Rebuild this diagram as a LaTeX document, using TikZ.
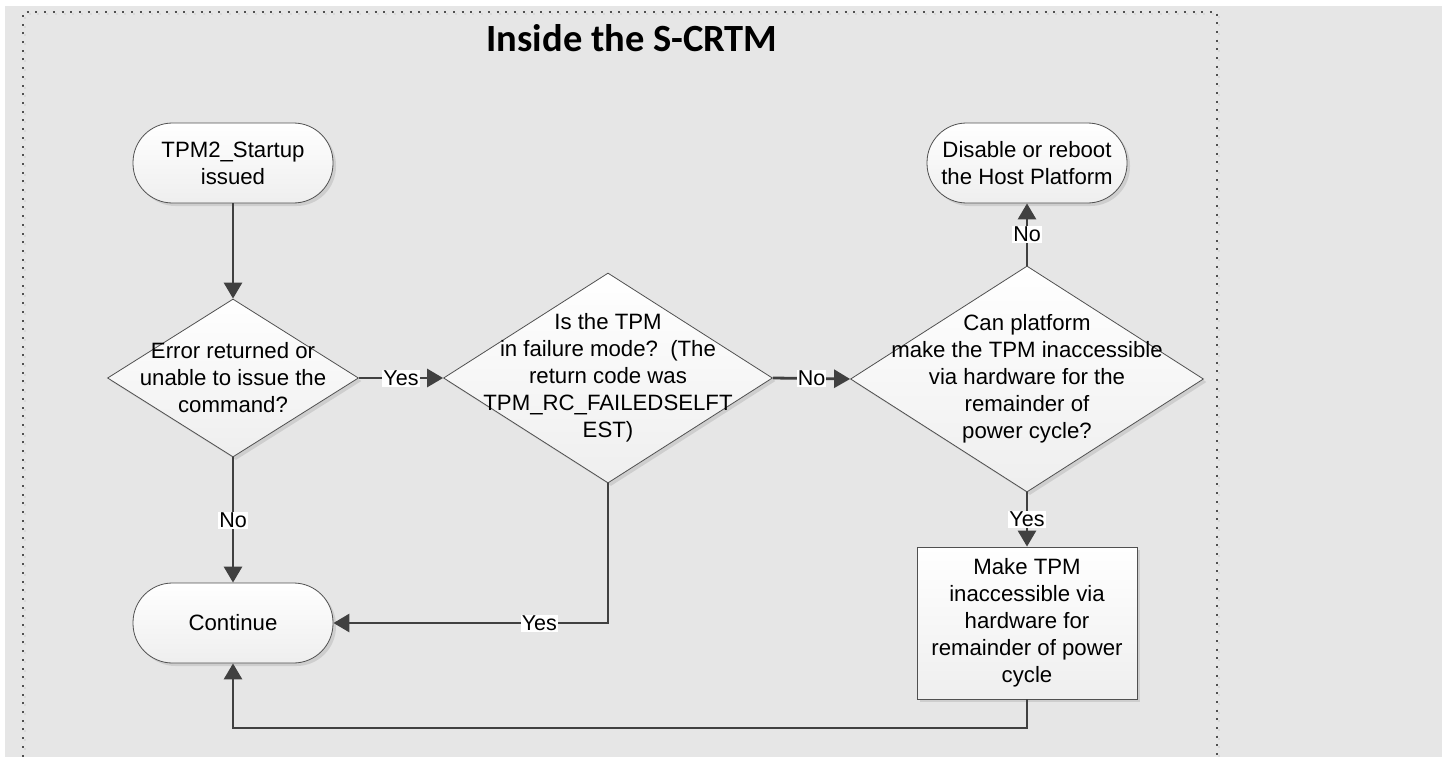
\documentclass[tikz,border=0pt]{standalone}
\usepackage{fontspec}
\setmainfont{Liberation Sans}
\newfontfamily\titlefont{Carlito}
\usetikzlibrary{shapes.geometric,arrows.meta,shadows}
\definecolor{bg}{HTML}{E6E6E6}
\definecolor{ln}{HTML}{404040}
\definecolor{bd}{HTML}{505050}
\definecolor{dotc}{HTML}{505050}
\begin{document}
\begin{tikzpicture}[x=1pt,y=-1pt,
  box/.style={draw=bd, line width=0.8pt, top color=white, bottom color=gray!13,
    drop shadow={shadow xshift=3pt,shadow yshift=-3pt,fill=black,opacity=0.10}, inner sep=0pt},
  term/.style={box, rectangle, rounded corners=39.5pt, minimum width=200pt, minimum height=80pt},
  dia/.style={box, diamond},
  txt/.style={font=\fontsize{22.2}{27}\selectfont, align=center, inner sep=0pt},
  conn/.style={draw=ln, line width=2.8pt, -{Triangle[length=16pt,width=18pt]}},
  lbl/.style={fill=white, text=black, font=\fontsize{21.5}{24}\selectfont, inner sep=1pt}]
\useasboundingbox (0,0) rectangle (1442,757);
\clip (0,0) rectangle (1442,757);
\fill[white] (0,0) rectangle (1442,757);
\fill[bg] (5,6) rectangle (1442,757);
% dotted frame
\draw[black!15, line width=2pt, dash pattern=on 2pt off 6.7pt, shift={(2,2)}] (23,800) -- (23,12) -- (1217,12) -- (1217,800);
\draw[dotc, line width=2pt, dash pattern=on 2pt off 6.7pt] (23,800) -- (23,12) -- (1217,12) -- (1217,800);
% title
\node[anchor=base, inner sep=0pt, font=\titlefont\bfseries\fontsize{38.5}{41}\selectfont] (title) at (632,52) {Inside the S-CRTM};
% nodes
\node[term] (start) at (233,163) {};
\node[txt] (startt) at (start.center) {TPM2\_Startup\\issued};
\node[dia, minimum width=251pt, minimum height=158pt] (d1) at (233,378) {};
\node[txt] (d1t) at (d1.center) {Error returned or\\unable to issue the\\command?};
\node[dia, minimum width=329pt, minimum height=210pt] (d2) at (608,378) {};
\node[txt] (d2t) at (d2.center) {Is the TPM\\in failure mode?\ \ (The\\return code was\\TPM\_RC\_FAILEDSELFT\\EST)};
\node[dia, minimum width=353pt, minimum height=226pt] (d3) at (1027,379) {};
\node[txt] (d3t) at (d3.center) {Can platform\\make the TPM inaccessible\\via hardware for the\\remainder of\\power cycle?};
\node[term] (dis) at (1027,163) {};
\node[txt] (dist) at (dis.center) {Disable or reboot\\the Host Platform};
\node[box, rectangle, minimum width=220pt, minimum height=152pt] (make) at (1027,623) {};
\node[txt] (maket) at (make.center) {Make TPM\\inaccessible via\\hardware for\\remainder of power\\cycle};
\node[term] (cont) at (233,623) {};
\node[txt] (contt) at (cont.center) {Continue};
\coordinate (loopy) at (0,728);
% connectors
\draw[conn] (start.south) -- (d1.north);
\draw[conn] (d1.east) -- node[lbl] (l1) {Yes} (d2.west);
\draw[conn] (d2.east) -- node[lbl] (l2) {No} (d3.west);
\draw[conn] (d3.north) -- node[lbl] (l3) {No} (dis.south);
\draw[conn] (d3.south) -- node[lbl] (l4) {Yes} (make.north);
\draw[conn] (d1.south) -- node[lbl] (l5) {No} (cont.north);
\draw[conn] (d2.south) |- node[lbl, pos=0.625] (l6) {Yes} (cont.east);
\draw[conn] (make.south) -- (make.south |- loopy) -| (cont.south);
\end{tikzpicture}
\end{document}
